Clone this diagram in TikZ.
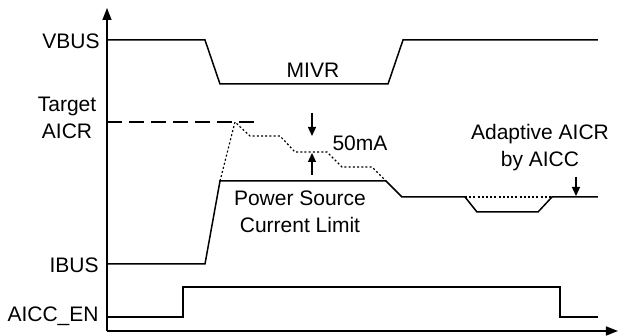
\documentclass[tikz,border=0pt]{standalone}
\usepackage{fontspec}
\setmainfont{Liberation Sans}
\usetikzlibrary{arrows.meta}

\begin{document}
\begin{tikzpicture}[x=0.5pt,y=-0.5pt,
  sig/.style={line width=0.75pt},
  dots/.style={line width=0.6pt,dash pattern=on 1pt off 1.1pt},
  lbl/.style={font=\fontsize{10.5}{13.5}\selectfont,inner sep=0pt,align=center},
  tip/.style={line width=0.65pt,-{Triangle[length=4.5pt,width=4pt]}}]
  \useasboundingbox (0,0) rectangle (618,336);
  % axes
  \draw[sig,-{Triangle[length=6pt,width=4.5pt]}] (107,331) -- (107,8);
  \draw[sig,-{Triangle[length=6pt,width=4.5pt]}] (107,331) -- (618,331);
  % VBUS
  \draw[sig] (107,40) -- (205,40) -- (220,84) -- (388,84) -- (403,40) -- (598,40);
  % target AICR
  \draw[sig,dash pattern=on 7.5pt off 3.5pt] (107,122) -- (258,122);
  % IBUS
  \draw[sig] (107,264) -- (205,264) -- (220,181) -- (386,181) -- (402,197)
    -- (465,197) -- (477,212) -- (538,212) -- (552,197) -- (598,197);
  % AICR steps
  \draw[dots] (220,181) -- (235,122) -- (250,136) -- (280,136) -- (295,152)
    -- (327,152) -- (342,167) -- (372,167) -- (386,181);
  \draw[dots] (465,197) -- (552,197);
  % AICC_EN
  \draw[sig] (107,317) -- (183,317) -- (183,287) -- (560,287) -- (560,317) -- (598,317);
  % arrows
  \coordinate (stepA) at (312,113);
  \coordinate (stepB) at (312,136);
  \coordinate (stepC) at (312,175);
  \coordinate (stepD) at (312,153);
  \coordinate (adaA) at (576,177);
  \coordinate (adaB) at (576,196);
  \draw[tip] (stepA) -- (stepB);
  \draw[tip] (stepC) -- (stepD);
  \draw[tip] (adaA) -- (adaB);
  % label
  \node[lbl,anchor=east] (vbus) at (100,41) {VBUS};
  \node[lbl] (target) at (67,118) {Target\\AICR};
  \node[lbl,anchor=east] (ibus) at (99,265) {IBUS};
  \node[lbl,anchor=east] (aiccen) at (99,316) {AICC\_EN};
  \node[lbl] (mivr) at (313,70) {MIVR};
  \node[lbl] (fifty) at (360,143) {50mA};
  \node[lbl] (limit) at (300,212) {Power Source\\Current Limit};
  \node[lbl] (adapt) at (540,148) {Adaptive AICR\\by AICC};
\end{tikzpicture}
\end{document}
